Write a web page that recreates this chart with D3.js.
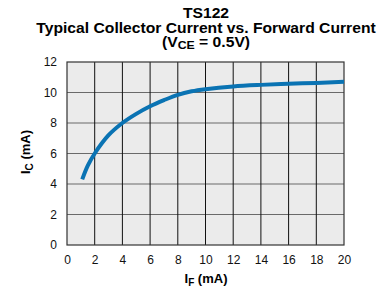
<!DOCTYPE html>
<html>
<head>
<meta charset="utf-8">
<script src="https://cdn.jsdelivr.net/npm/d3@7"></script>
<style>
  body { margin: 0; background: #fff; }
  svg { font-family: "Liberation Sans", Arial, sans-serif; }
</style>
</head>
<body>
<div id="chart"></div>
<script>
// forward current I_F (mA) and collector current I_C (mA)
const forwardCurrent = [1.1, 1.5, 2, 3, 4, 5, 6, 7, 8, 9, 10, 12, 14, 16, 18, 20];
const collectorCurrent = [4.3, 5.2, 6.0, 7.2, 8.0, 8.6, 9.1, 9.5, 9.85, 10.08, 10.22, 10.4, 10.5, 10.57, 10.63, 10.7];
const xTicks = [0, 2, 4, 6, 8, 10, 12, 14, 16, 18, 20];
const yTicks = [0, 2, 4, 6, 8, 10, 12];

const width = 379, height = 293;
const margin = {top: 62, right: 35, bottom: 48, left: 67};
const innerW = width - margin.left - margin.right;
const innerH = height - margin.top - margin.bottom;

const svg = d3.select('#chart')
  .append('svg')
  .attr('width', width)
  .attr('height', height);

// title block, slightly stretched like the original artwork
const title = svg.append('g')
  .attr('transform', 'translate(206,0) scale(1.12,1)')
  .attr('text-anchor', 'middle')
  .attr('font-weight', 'bold')
  .attr('font-size', '14px');
title.append('text').attr('x', 0).attr('y', 18).text('TS122');
title.append('text').attr('x', 0).attr('y', 33).text('Typical Collector Current vs. Forward Current');
const sub = title.append('text').attr('x', 0).attr('y', 47);
sub.append('tspan').text('(V');
sub.append('tspan').attr('dy', 2).attr('font-size', '11px').text('CE');
sub.append('tspan').attr('dy', -2).text(' = 0.5V)');

const g = svg.append('g')
  .attr('transform', 'translate(' + margin.left + ',' + margin.top + ')');

const x = d3.scaleLinear().domain([0, 20]).range([0, innerW]);
const y = d3.scaleLinear().domain([0, 12]).range([innerH, 0]);

g.append('rect')
  .attr('width', innerW)
  .attr('height', innerH)
  .attr('fill', '#ebebeb');

// grid
g.append('g')
  .selectAll('line')
  .data(yTicks.slice(1, -1))
  .enter()
  .append('line')
  .attr('x1', 0)
  .attr('x2', innerW)
  .attr('y1', d => y(d))
  .attr('y2', d => y(d))
  .attr('stroke', '#6a6a6a')
  .attr('stroke-width', 1.2);

g.append('g')
  .selectAll('line')
  .data(xTicks.slice(1, -1))
  .enter()
  .append('line')
  .attr('y1', 0)
  .attr('y2', innerH)
  .attr('x1', d => x(d))
  .attr('x2', d => x(d))
  .attr('stroke', '#111')
  .attr('stroke-width', 1);

g.append('rect')
  .attr('width', innerW)
  .attr('height', innerH)
  .attr('fill', 'none')
  .attr('stroke', '#333')
  .attr('stroke-width', 1.2);

// axes (labels only)
const xAxis = g.append('g')
  .attr('transform', 'translate(0,' + innerH + ')')
  .call(d3.axisBottom(x).tickValues(xTicks).tickSize(0).tickPadding(10));
const yAxis = g.append('g')
  .call(d3.axisLeft(y).tickValues(yTicks).tickSize(0).tickPadding(10));
[xAxis, yAxis].forEach(a => {
  a.select('.domain').remove();
  a.selectAll('text')
    .attr('font-size', '12px')
    .attr('font-family', '"Liberation Sans", Arial, sans-serif')
    .attr('fill', '#111');
});

// curve
const line = d3.line()
  .curve(d3.curveCatmullRom.alpha(0.5))
  .x(d => x(d[0]))
  .y(d => y(d[1]));

g.append('path')
  .datum(d3.zip(forwardCurrent, collectorCurrent))
  .attr('fill', 'none')
  .attr('stroke', '#0a73b3')
  .attr('stroke-width', 4)
  .attr('stroke-linecap', 'butt')
  .attr('d', line);

// axis titles
const xt = svg.append('text')
  .attr('x', 206)
  .attr('y', 283)
  .attr('text-anchor', 'middle')
  .attr('font-weight', 'bold')
  .attr('font-size', '13px');
xt.append('tspan').text('I');
xt.append('tspan').attr('dy', 3).attr('font-size', '10px').text('F');
xt.append('tspan').attr('dy', -3).text(' (mA)');

const yt = svg.append('text')
  .attr('transform', 'translate(30,152) rotate(-90)')
  .attr('text-anchor', 'middle')
  .attr('font-weight', 'bold')
  .attr('font-size', '13px');
yt.append('tspan').text('I');
yt.append('tspan').attr('dy', 3).attr('font-size', '10px').text('C');
yt.append('tspan').attr('dy', -3).text(' (mA)');
</script>
</body>
</html>
